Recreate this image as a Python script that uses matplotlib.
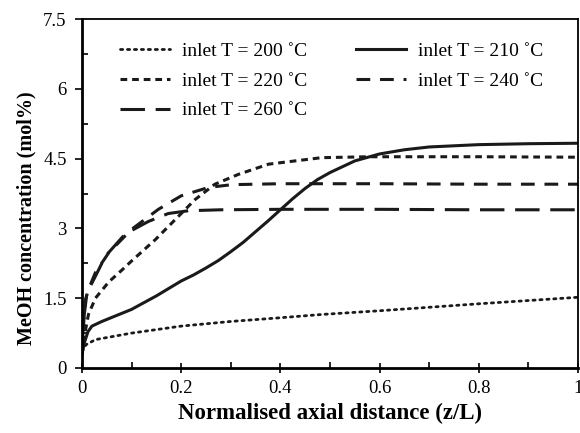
import matplotlib
matplotlib.use("Agg")
import matplotlib.pyplot as plt
from matplotlib.ticker import MultipleLocator

plt.rcParams['font.family'] = ['Liberation Serif', 'DejaVu Serif']

# Data
x200 = [0.0, 0.008, 0.027, 0.1, 0.2, 0.3, 0.4, 0.483, 0.6, 0.8, 1.0]
y200 = [0.35, 0.5, 0.61, 0.75, 0.90, 1.0, 1.08, 1.15, 1.23, 1.38, 1.52]

x210 = [0.0, 0.005, 0.012, 0.02, 0.04, 0.07, 0.1, 0.15, 0.2, 0.225, 0.25, 0.275, 0.3,
        0.325, 0.35, 0.375, 0.4, 0.425, 0.45, 0.475, 0.5, 0.55, 0.6, 0.65, 0.7, 0.8, 0.9, 1.0]
y210 = [0.3, 0.55, 0.78, 0.9, 1.0, 1.13, 1.26, 1.55, 1.87, 2.0, 2.15, 2.31, 2.5,
        2.7, 2.93, 3.16, 3.4, 3.64, 3.86, 4.05, 4.2, 4.45, 4.6, 4.69, 4.75, 4.8, 4.82, 4.83]

x220 = [0.0, 0.005, 0.013, 0.027, 0.054, 0.08, 0.1, 0.148, 0.188, 0.228, 0.268, 0.315, 0.376,
        0.483, 0.58, 0.7, 0.8, 1.0]
y220 = [0.3, 0.7, 1.15, 1.5, 1.85, 2.1, 2.3, 2.76, 3.19, 3.62, 3.95, 4.16, 4.38,
        4.52, 4.54, 4.54, 4.54, 4.53]

x240 = [0.0, 0.003, 0.007, 0.013, 0.027, 0.054, 0.1, 0.154, 0.2, 0.255, 0.302, 0.4, 0.6, 0.8, 1.0]
y240 = [0.3, 0.9, 1.47, 1.69, 2.05, 2.48, 2.98, 3.41, 3.70, 3.88, 3.94, 3.96, 3.96, 3.95, 3.95]

x260 = [0.0, 0.003, 0.01, 0.027, 0.047, 0.087, 0.134, 0.174, 0.215, 0.28, 0.4, 0.6, 0.8, 1.0]
y260 = [0.3, 1.0, 1.62, 1.97, 2.40, 2.88, 3.15, 3.32, 3.38, 3.40, 3.41, 3.41, 3.40, 3.40]

labels = ['inlet T = 200 \u02daC', 'inlet T = 210 \u02daC', 'inlet T = 220 \u02daC',
          'inlet T = 240 \u02daC', 'inlet T = 260 \u02daC']
xtick_labels = ['0', '0.2', '0.4', '0.6', '0.8', '1']
ytick_labels = ['0', '1.5', '3', '4.5', '6', '7.5']

fig = plt.figure(figsize=(5.8, 4.33), dpi=100)
ax = fig.add_axes([82/580, 1-368/433, (578-82)/580, (368-19)/433])

c = '#1a1a1a'
h200, = ax.plot(x200, y200, color=c, lw=2.0, linestyle=(0, (0.8, 1.7)), dash_capstyle='round')
h210, = ax.plot(x210, y210, color=c, lw=2.2, linestyle='-')
h220, = ax.plot(x220, y220, color=c, lw=2.2, linestyle=(0, (2.2, 1.6)))
h240, = ax.plot(x240, y240, color=c, lw=2.2, linestyle=(0, (4.5, 3.2)))
h260, = ax.plot(x260, y260, color=c, lw=2.2, linestyle=(0, (8, 3.5)))

handles = [h200, h220, h260, h210, h240]
labs = [labels[0], labels[2], labels[4], labels[1], labels[3]]
ax.legend(handles, labs, ncol=2, frameon=False, loc='upper left',
          bbox_to_anchor=(0.06, 0.955), fontsize=14, handlelength=2.6,
          columnspacing=2.5, handletextpad=0.6, labelspacing=0.62,
          borderaxespad=0.0)

ax.set_xlim(0, 1)
ax.set_ylim(0, 7.5)
ax.xaxis.set_minor_locator(MultipleLocator(0.1))
ax.yaxis.set_minor_locator(MultipleLocator(0.75))
ax.set_xticks([0, 0.2, 0.4, 0.6, 0.8, 1.0])
ax.set_xticklabels(xtick_labels)
ax.set_yticks([0, 1.5, 3, 4.5, 6, 7.5])
ax.set_yticklabels(ytick_labels)

ax.tick_params(axis='x', which='major', direction='inout', length=7, width=1.2, labelsize=13.5, pad=5)
ax.tick_params(axis='x', which='minor', direction='in', length=4, width=1.2)
ax.tick_params(axis='y', which='major', direction='out', length=5, width=1.2, labelsize=13.5, pad=6)
ax.tick_params(axis='y', which='minor', direction='in', length=4, width=1.2)

for s in ['left', 'bottom']:
    ax.spines[s].set_linewidth(2.0)
for s in ['top', 'right']:
    ax.spines[s].set_linewidth(1.3)

ax.set_xlabel('Normalised axial distance (z/L)', fontsize=16.5, fontweight='bold')
ax.set_ylabel('MeOH concentration (mol%)', fontsize=14.5, fontweight='bold')
ax.xaxis.set_label_coords(0.5, -0.1)
ax.yaxis.set_label_coords(-0.092, 0.43)

fig.savefig('out.png', dpi=100)
